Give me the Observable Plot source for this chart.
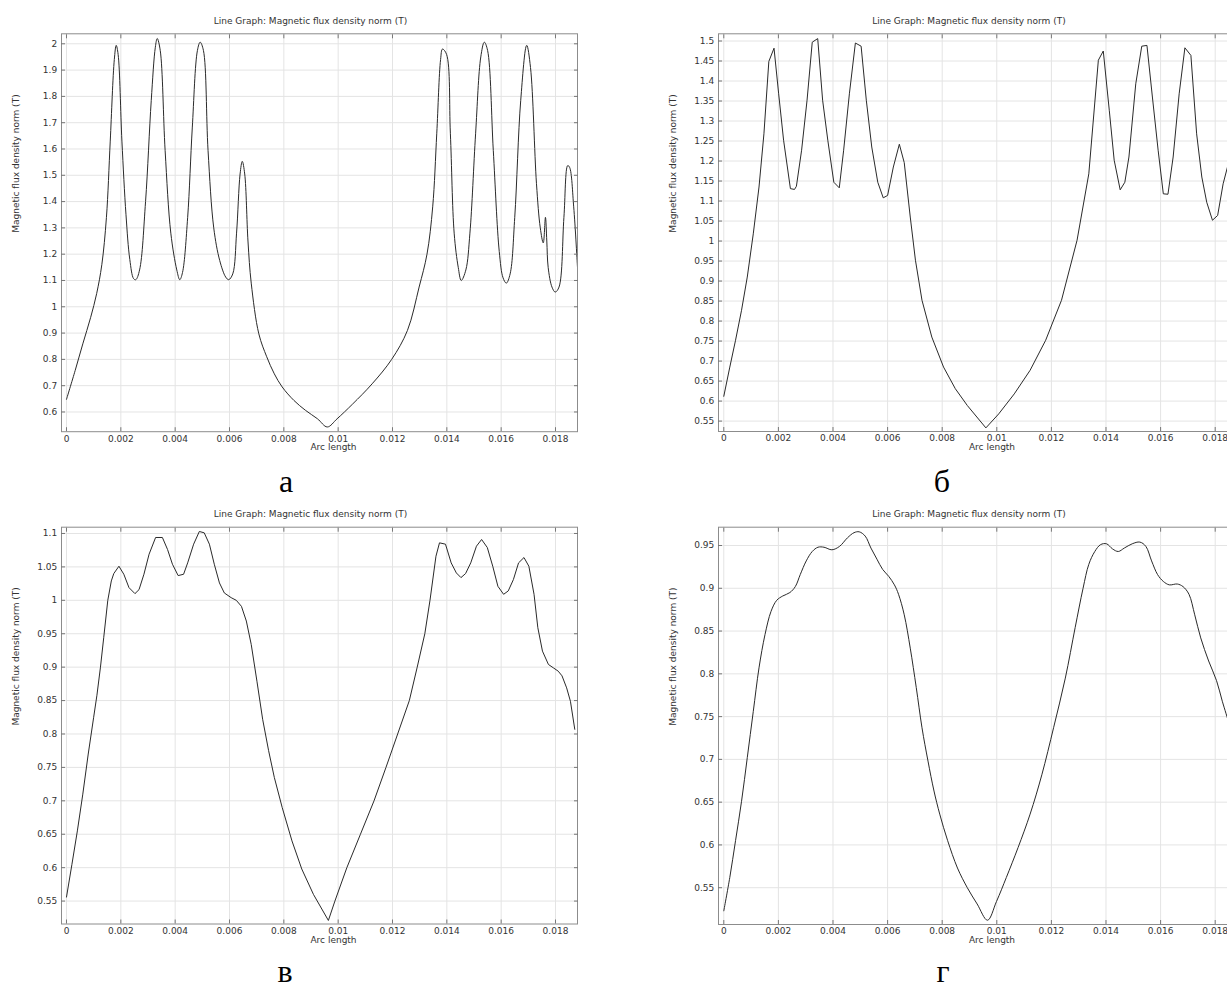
<!DOCTYPE html>
<html><head><meta charset="utf-8">
<script src="https://cdn.jsdelivr.net/npm/d3@7"></script>
<script src="https://cdn.jsdelivr.net/npm/@observablehq/plot@0.6"></script>
<style>
body{margin:0;background:#fff;}
#root{position:relative;width:1227px;height:989px;overflow:hidden;background:#fff;}
.panel{position:absolute;}
.panel svg{max-width:none !important;}
.letter{position:absolute;font-family:"Liberation Serif","Times New Roman",serif;font-size:32px;color:#000;transform:translateX(-50%);line-height:26px;height:26px;white-space:nowrap;}
</style></head><body><div id="root"></div>
<script>
// ---- texts ----
const titleText = "Line Graph: Magnetic flux density norm (T)";
const xLabel = "Arc length";
const yLabel = "Magnetic flux density norm (T)";
const panelLetters = ["а", "б", "в", "г"];

// ---- ticks ----
const xTicks = [0, 0.002, 0.004, 0.006, 0.008, 0.01, 0.012, 0.014, 0.016, 0.018];
const yTicksA = [0.6, 0.7, 0.8, 0.9, 1, 1.1, 1.2, 1.3, 1.4, 1.5, 1.6, 1.7, 1.8, 1.9, 2];
const yTicksB = [0.55, 0.6, 0.65, 0.7, 0.75, 0.8, 0.85, 0.9, 0.95, 1, 1.05, 1.1, 1.15, 1.2, 1.25, 1.3, 1.35, 1.4, 1.45, 1.5];
const yTicksV = [0.55, 0.6, 0.65, 0.7, 0.75, 0.8, 0.85, 0.9, 0.95, 1, 1.05, 1.1];
const yTicksG = [0.55, 0.6, 0.65, 0.7, 0.75, 0.8, 0.85, 0.9, 0.95];

// ---- series (Arc length, B norm) ----
const arcA = [0,0.00032,0.0006,0.00089,0.00111,0.0013,0.00147,0.00161,0.00176,0.00183,0.0019,0.00204,0.00219,0.00233,0.00247,0.00255,0.00269,0.00291,0.00312,0.00327,0.00334,0.00345,0.00363,0.00384,0.00406,0.00417,0.00427,0.00446,0.00463,0.00482,0.00492,0.00504,0.00521,0.00542,0.00564,0.00586,0.00597,0.00612,0.00626,0.00639,0.00647,0.00656,0.00668,0.0068,0.00708,0.00737,0.00765,0.00794,0.00837,0.0088,0.00924,0.0096,0.00996,0.01053,0.01125,0.01197,0.01255,0.01298,0.01327,0.01348,0.01363,0.01377,0.01384,0.01399,0.01413,0.01427,0.01442,0.01453,0.0147,0.01485,0.01506,0.01525,0.01538,0.0155,0.01571,0.01593,0.01607,0.01619,0.01633,0.0165,0.01672,0.01694,0.01708,0.0173,0.01744,0.01755,0.01763,0.01768,0.01773,0.01787,0.01799,0.01813,0.01831,0.01845,0.01852,0.01867,0.01881];
const bA = [0.648,0.758,0.859,0.96,1.05,1.16,1.34,1.63,1.94,1.994,1.96,1.63,1.35,1.18,1.107,1.103,1.14,1.40,1.785,1.987,2.02,1.975,1.595,1.28,1.14,1.103,1.13,1.34,1.68,1.975,2.006,1.975,1.595,1.30,1.176,1.113,1.103,1.125,1.28,1.505,1.553,1.505,1.25,1.09,0.897,0.81,0.745,0.695,0.644,0.606,0.574,0.543,0.574,0.63,0.707,0.80,0.91,1.075,1.20,1.38,1.66,1.94,1.98,1.96,1.66,1.28,1.15,1.10,1.14,1.28,1.66,1.95,2.006,1.975,1.595,1.21,1.11,1.09,1.125,1.34,1.785,1.994,1.91,1.468,1.30,1.243,1.34,1.25,1.15,1.075,1.056,1.075,1.34,1.537,1.53,1.38,1.15];

const arcB = [0,0.00022,0.00043,0.00065,0.00086,0.00108,0.00129,0.00147,0.00165,0.00184,0.00201,0.00219,0.00244,0.00259,0.00266,0.00285,0.00305,0.00324,0.00344,0.00362,0.00381,0.00403,0.00423,0.00439,0.0046,0.00482,0.00503,0.00522,0.00542,0.00564,0.00584,0.006,0.00621,0.00643,0.00661,0.00683,0.00702,0.00726,0.00762,0.00805,0.00848,0.00892,0.0096,0.01007,0.01064,0.01122,0.01179,0.01237,0.01294,0.01337,0.01372,0.0139,0.01412,0.0143,0.01452,0.01469,0.01484,0.01509,0.01531,0.0155,0.0157,0.01591,0.0161,0.01627,0.01646,0.01668,0.01689,0.01711,0.01732,0.01751,0.01769,0.0179,0.01809,0.01829,0.01848];
const bB = [0.612,0.685,0.752,0.827,0.91,1.018,1.135,1.268,1.449,1.482,1.368,1.252,1.131,1.129,1.137,1.227,1.352,1.497,1.506,1.352,1.252,1.147,1.133,1.227,1.368,1.495,1.487,1.352,1.235,1.147,1.108,1.114,1.185,1.242,1.196,1.06,0.952,0.852,0.76,0.685,0.631,0.589,0.533,0.568,0.618,0.677,0.752,0.852,1.002,1.168,1.452,1.475,1.327,1.202,1.128,1.147,1.21,1.393,1.487,1.489,1.36,1.227,1.118,1.117,1.21,1.368,1.483,1.464,1.268,1.16,1.097,1.052,1.064,1.143,1.193];

const arcV = [0,0.0002,0.0004,0.0006,0.0008,0.001,0.00112,0.00125,0.00137,0.00152,0.00165,0.00174,0.00193,0.00211,0.0023,0.00252,0.00267,0.00285,0.00304,0.00328,0.00353,0.00372,0.0039,0.00411,0.00431,0.00446,0.00468,0.00489,0.00507,0.00526,0.00544,0.00563,0.00581,0.00606,0.00625,0.00644,0.00662,0.0068,0.00701,0.00722,0.00744,0.00765,0.00794,0.0083,0.00866,0.00909,0.00964,0.00988,0.01032,0.01082,0.01132,0.01176,0.01219,0.01262,0.01291,0.01319,0.01338,0.0136,0.01373,0.01395,0.01416,0.01435,0.01452,0.01469,0.01488,0.01509,0.01528,0.01549,0.01569,0.01588,0.01609,0.01626,0.01645,0.01664,0.01684,0.01702,0.01721,0.01735,0.01752,0.01774,0.01792,0.0181,0.01824,0.01841,0.01855,0.01871];
const bV = [0.556,0.605,0.655,0.71,0.77,0.825,0.858,0.9,0.944,1.0,1.029,1.04,1.051,1.039,1.019,1.01,1.016,1.039,1.069,1.094,1.094,1.076,1.054,1.037,1.039,1.056,1.084,1.103,1.101,1.084,1.054,1.026,1.011,1.004,1.0,0.991,0.969,0.934,0.879,0.822,0.775,0.735,0.69,0.64,0.598,0.56,0.521,0.55,0.6,0.65,0.7,0.75,0.8,0.85,0.9,0.95,1.0,1.066,1.086,1.084,1.056,1.041,1.034,1.04,1.056,1.081,1.091,1.079,1.051,1.021,1.009,1.014,1.031,1.056,1.064,1.051,1.009,0.959,0.924,0.904,0.899,0.894,0.887,0.869,0.849,0.807];

const arcG = [0,0.00022,0.00043,0.00065,0.00086,0.00108,0.00129,0.00151,0.00173,0.00194,0.00216,0.00242,0.00262,0.0028,0.00302,0.00324,0.00345,0.00367,0.00396,0.00424,0.00453,0.00477,0.00496,0.00518,0.00539,0.00561,0.00582,0.00604,0.00625,0.0064,0.00661,0.00683,0.00705,0.00726,0.00748,0.0077,0.00791,0.0082,0.00856,0.00892,0.00928,0.00966,0.00999,0.01035,0.01078,0.01122,0.01165,0.01208,0.01251,0.01287,0.01316,0.01337,0.01359,0.0138,0.01402,0.01424,0.01445,0.01467,0.01496,0.01524,0.01546,0.01567,0.01589,0.0161,0.01632,0.01661,0.01682,0.01704,0.01725,0.01747,0.01776,0.01805,0.01826,0.01848];
const bG = [0.523,0.562,0.605,0.651,0.702,0.756,0.807,0.846,0.873,0.886,0.891,0.895,0.902,0.916,0.932,0.943,0.948,0.948,0.945,0.949,0.959,0.965,0.966,0.961,0.947,0.934,0.922,0.914,0.904,0.893,0.869,0.83,0.784,0.737,0.698,0.663,0.636,0.605,0.573,0.55,0.531,0.512,0.534,0.562,0.597,0.636,0.682,0.737,0.795,0.854,0.9,0.928,0.943,0.951,0.952,0.946,0.943,0.947,0.952,0.954,0.949,0.932,0.916,0.908,0.904,0.905,0.902,0.893,0.869,0.842,0.815,0.792,0.768,0.745];

const fmt = d => String(+d.toFixed(4));

function panel(cfg) {
  const data = cfg.xs.map((x, i) => ({x, y: cfg.ys[i]}));
  const svg = Plot.plot({
    width: cfg.width, height: cfg.height,
    marginLeft: cfg.mLeft, marginRight: cfg.mRight, marginTop: cfg.mTop, marginBottom: cfg.mBottom,
    style: {fontFamily: "'DejaVu Sans', sans-serif", fontSize: "9px", color: "#333", background: "transparent", overflow: "visible"},
    x: {domain: cfg.xDomain},
    y: {domain: cfg.yDomain},
    marks: [
      Plot.gridX(xTicks, {stroke: "#e4e4e4", strokeOpacity: 1}),
      Plot.gridY(cfg.yTicks, {stroke: "#e4e4e4", strokeOpacity: 1}),
      Plot.line(data, {x: "x", y: "y", stroke: "#2a2a2a", strokeWidth: 1, curve: cfg.curve, clip: true}),
      Plot.frame({stroke: "#8c8c8c"}),
      Plot.axisX(xTicks, {anchor: "bottom", tickSize: -4, tickPadding: 7.5, tickFormat: fmt, label: null, stroke: "#777", fill: "#333"}),
      Plot.axisX(xTicks, {anchor: "top", tickSize: -4, tickFormat: () => "", label: null, stroke: "#777"}),
      Plot.axisY(cfg.yTicks, {anchor: "left", tickSize: -4, tickPadding: 8.3, tickFormat: fmt, label: null, stroke: "#777", fill: "#333"}),
      Plot.axisY(cfg.yTicks, {anchor: "right", tickSize: -4, tickFormat: () => "", label: null, stroke: "#777"}),
      Plot.text([titleText], {frameAnchor: "top", dy: cfg.titleDy, dx: -9, fill: "#333", fontSize: 9}),
      Plot.text([xLabel], {frameAnchor: "bottom", dy: 18.5, dx: 14, fill: "#333", fontSize: 9}),
      Plot.text([yLabel], {frameAnchor: "left", rotate: -90, dx: -45.3, fill: "#333", fontSize: 9})
    ]
  });
  const div = document.createElement("div");
  div.className = "panel";
  div.style.left = cfg.left + "px";
  div.style.top = cfg.top + "px";
  div.style.width = cfg.width + "px";
  div.appendChild(svg);
  document.getElementById("root").appendChild(div);
}

panel({left: 0, top: 0, width: 614, height: 470, mLeft: 61, mRight: 37, mTop: 33.3, mBottom: 38.8,
  xDomain: [-0.000184, 0.01881], yDomain: [0.525, 2.038], yTicks: yTicksA, xs: arcA, ys: bA, curve: "catmull-rom", titleDy: -16.6});
panel({left: 614, top: 0, width: 640, height: 470, mLeft: 104, mRight: 17, mTop: 33.3, mBottom: 39,
  xDomain: [-0.000194, 0.018817], yDomain: [0.524, 1.518], yTicks: yTicksB, xs: arcB, ys: bB, curve: "linear", titleDy: -16.6});
panel({left: 0, top: 494, width: 614, height: 470, mLeft: 61, mRight: 37, mTop: 32.7, mBottom: 40.5,
  xDomain: [-0.000184, 0.01881], yDomain: [0.5157, 1.1094], yTicks: yTicksV, xs: arcV, ys: bV, curve: "linear", titleDy: -16.7});
panel({left: 614, top: 494, width: 640, height: 470, mLeft: 104, mRight: 17, mTop: 32.7, mBottom: 40,
  xDomain: [-0.000194, 0.018817], yDomain: [0.507, 0.9714], yTicks: yTicksG, xs: arcG, ys: bG, curve: "catmull-rom", titleDy: -16.7});

// panel letters (captions); box top so that the baseline lands near the reference baseline
const letterPos = [[286, 468.2], [942, 468.2], [285, 958.2], [943, 958.2]];
panelLetters.forEach((t, i) => {
  const d = document.createElement("div");
  d.className = "letter";
  d.textContent = t;
  d.style.left = letterPos[i][0] + "px";
  d.style.top = letterPos[i][1] + "px";
  document.getElementById("root").appendChild(d);
});
</script>
</body></html>
